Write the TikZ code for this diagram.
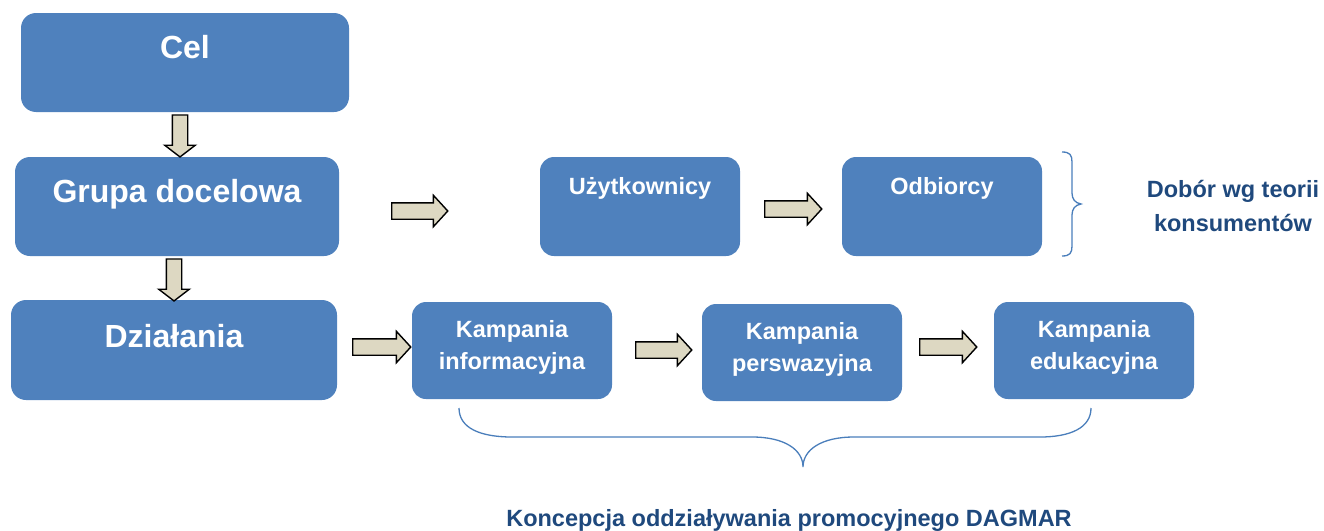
\documentclass[tikz,border=0pt]{standalone}
\usepackage{fontspec}
\setmainfont{Liberation Sans}
\usetikzlibrary{shapes.arrows}
\definecolor{boxblue}{HTML}{4F81BD}
\definecolor{txtblue}{HTML}{1F497D}
\definecolor{arrowfill}{HTML}{DDD8C2}
\definecolor{bracecol}{HTML}{4A7EBB}
\tikzset{
  bigbox/.style={fill=boxblue, rounded corners=15pt, inner sep=0pt},
  smallbox/.style={fill=boxblue, rounded corners=14pt, inner sep=0pt},
  bigtxt/.style={text=white, font=\fontsize{32}{36}\selectfont\bfseries, anchor=base, inner sep=0pt},
  smalltxt/.style={text=white, font=\fontsize{23.5}{32}\selectfont\bfseries, anchor=base, inner sep=0pt, align=center},
  bluetxt/.style={text=txtblue, font=\fontsize{23.5}{34}\selectfont\bfseries, anchor=base, inner sep=0pt, align=center},
  blockarrow/.style={single arrow, draw=black, line width=1.4pt, fill=arrowfill,
    inner sep=7.5pt, single arrow head extend=7.5pt, single arrow tip angle=95},
  downarrow/.style={blockarrow, shape border rotate=270, inner sep=7pt, single arrow tip angle=105},
  bracestyle/.style={draw=bracecol, line width=1.3pt}
}
\begin{document}
\begin{tikzpicture}[x=1pt,y=-1pt]
\useasboundingbox (0,0) rectangle (1324,530);
% boxes
\node[bigbox, minimum width=328pt, minimum height=99pt] (cel) at (185,62.5) {};
\node[bigbox, minimum width=324pt, minimum height=99pt] (grupa) at (177,206.5) {};
\node[bigbox, minimum width=326pt, minimum height=100pt] (dzial) at (174,350) {};
\node[smallbox, minimum width=200pt, minimum height=99pt] (uzyt) at (640,206.5) {};
\node[smallbox, minimum width=200pt, minimum height=99pt] (odb) at (942,206.5) {};
\node[smallbox, minimum width=200pt, minimum height=97pt] (info) at (512,350.5) {};
\node[smallbox, minimum width=200pt, minimum height=97pt] (persw) at (802,352.5) {};
\node[smallbox, minimum width=200pt, minimum height=97pt] (edu) at (1094,350.5) {};
% box texts
\node[bigtxt] (celt) at (185,58) {Cel};
\node[bigtxt] (grupat) at (177,202) {Grupa docelowa};
\node[bigtxt] (dzialt) at (174,347) {Działania};
\node[smalltxt] (uzytt) at (640,194) {Użytkownicy};
\node[smalltxt] (odbt) at (942,194) {Odbiorcy};
\node[smalltxt] (infot) at (512,369) {Kampania\\informacyjna};
\node[smalltxt] (perswt) at (802,371) {Kampania\\perswazyjna};
\node[smalltxt] (edut) at (1094,369) {Kampania\\edukacyjna};
% side texts
\node[bluetxt] (dobor) at (1233,231) {Dobór wg teorii\\konsumentów};
\node[bluetxt] (konc) at (789,526) {Koncepcja oddziaływania promocyjnego DAGMAR};
% block arrows
\node[downarrow, minimum height=42pt] (a1) at (180,133) {};
\node[downarrow, minimum height=42pt] (a2) at (174,277) {};
\node[blockarrow, minimum height=56pt] (a3) at (416,211) {};
\node[blockarrow, minimum height=58pt] (a4) at (378,347) {};
\node[blockarrow, minimum height=57pt] (a5) at (789.5,209) {};
\node[blockarrow, minimum height=56pt] (a6) at (660,350) {};
\node[blockarrow, minimum height=57pt] (a7) at (944.5,347) {};
% right brace
\draw[bracestyle] (1062,152) .. controls (1070,152) and (1072,155) .. (1072,162)
  -- (1072,193) .. controls (1072,199) and (1075,203) .. (1081,204)
  .. controls (1075,205) and (1072,209) .. (1072,215)
  -- (1072,246) .. controls (1072,253) and (1070,256) .. (1062,256);
% bottom brace
\draw[bracestyle] (459,408) .. controls (459,428) and (480,437) .. (512,437)
  -- (752,437) .. controls (785,437) and (803,450) .. (803,467)
  .. controls (803,450) and (821,437) .. (854,437)
  -- (1040,437) .. controls (1070,437) and (1091,428) .. (1091,408);
\end{tikzpicture}
\end{document}
